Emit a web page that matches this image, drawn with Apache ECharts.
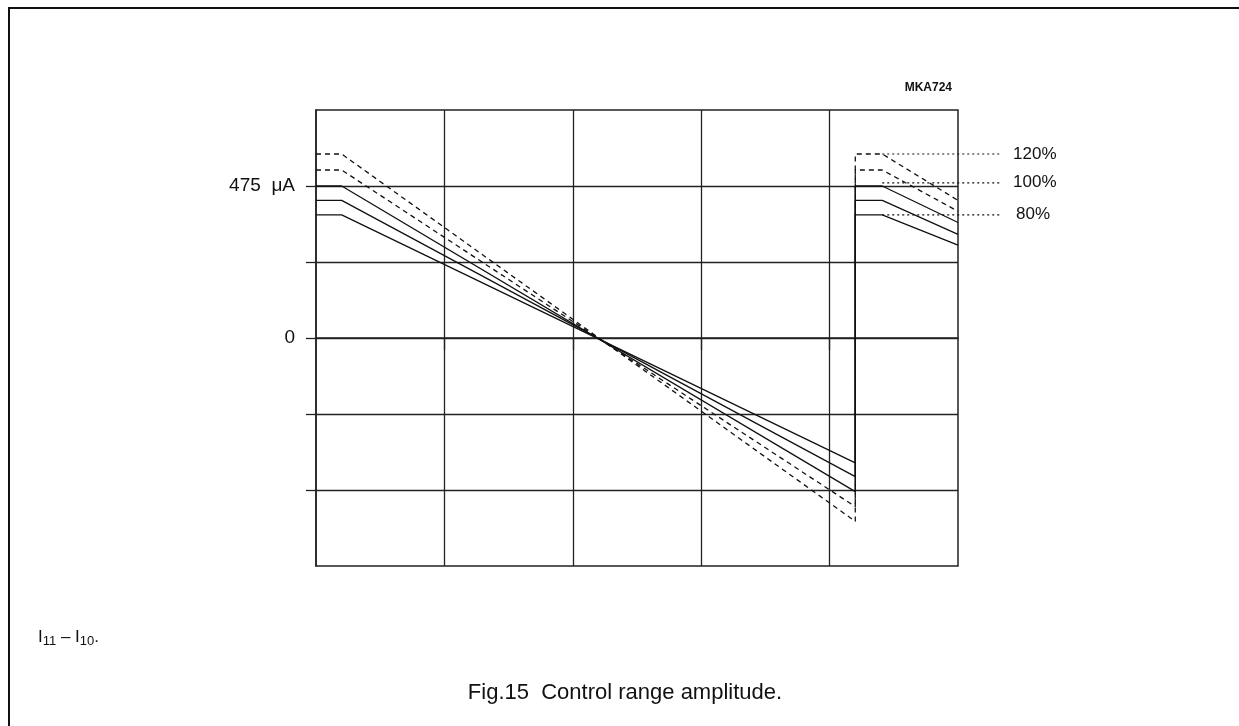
<!DOCTYPE html>
<html>
<head>
<meta charset="utf-8">
<script src="https://cdn.jsdelivr.net/npm/echarts@6/dist/echarts.min.js"></script>
<style>
html,body{margin:0;padding:0;background:#fff;}
#chart{width:1239px;height:726px;}
</style>
</head>
<body>
<div id="chart"></div>
<script>
// x positions (grid units) of the curve knots
const xPos = [0, 0.2, 4.2, 4.2, 4.41, 5.0];
// curve values in µA at each knot
const s120 = [575, 575, -573, 575, 575, 430];
const s110 = [525, 525, -527, 525, 525, 396];
const s100 = [475, 475, -480, 475, 475, 361];
const s90  = [430, 430, -433, 430, 430, 324];
const s80  = [385, 385, -390, 385, 385, 290];
// leader lines to the percentage labels
const leaderX = [4.41, 5.343];
const leaderNames = ['120%', '100%', '80%'];
const leaderY = [575, 485, 385];
// axis tick labels
const yLabelValues = [0, 475];
const yLabelText = {0: '0', 475: '475  μA'};

const lineColor = '#111';
const xMain = 5, xLeader = 5.343;
const gridLeft = 316, gridTop = 110, gridW = 642, gridH = 456;

function curve(name, vals, dashed) {
  return {
    name: name,
    type: 'line',
    xAxisIndex: 0, yAxisIndex: 0,
    data: xPos.map((x, i) => [x, vals[i]]),
    symbol: 'none',
    silent: true,
    lineStyle: {color: lineColor, width: 1.3, type: dashed ? [5, 4] : 'solid'},
    z: 3
  };
}

const series = [
  curve('120%', s120, true),
  curve('110%', s110, true),
  curve('100%', s100, false),
  curve('90%', s90, false),
  curve('80%', s80, false)
];

leaderNames.forEach((nm, k) => {
  series.push({
    name: 'leader ' + nm,
    type: 'line',
    xAxisIndex: 1, yAxisIndex: 1,
    data: leaderX.map(x => [x, leaderY[k]]),
    symbol: 'none',
    silent: true,
    lineStyle: {color: lineColor, width: 1.2, type: [2, 3]},
    endLabel: {
      show: true, distance: k === 2 ? 14 : 11, formatter: nm,
      fontSize: 17, fontFamily: 'Liberation Sans', color: lineColor
    },
    z: 4
  });
});

const yRange = {min: -712.5, max: 712.5};

const chart = echarts.init(document.getElementById('chart'));
chart.setOption({
  animation: false,
  backgroundColor: '#fff',
  grid: [
    {left: gridLeft, top: gridTop, width: gridW, height: gridH,
     show: true, borderColor: '#222', borderWidth: 1.5, backgroundColor: 'transparent'},
    {left: gridLeft, top: gridTop, width: gridW * xLeader / xMain, height: gridH, show: false}
  ],
  xAxis: [{
    gridIndex: 0, type: 'value', min: 0, max: xMain, interval: 1,
    axisLine: {show: true, lineStyle: {color: '#222', width: 1.5}},
    axisTick: {show: true, length: 12, customValues: [1, 2, 3, 4], lineStyle: {color: '#222', width: 1.3}},
    axisLabel: {show: false},
    splitLine: {show: true, lineStyle: {color: '#222', width: 1.3}}
  }, {
    gridIndex: 1, type: 'value', min: 0, max: xLeader, show: false
  }],
  yAxis: [{
    gridIndex: 0, type: 'value', min: yRange.min, max: yRange.max, interval: 237.5,
    axisLine: {show: true, lineStyle: {color: '#222', width: 1.5}},
    axisTick: {show: true, length: 10, customValues: [-475, -237.5, 0, 237.5, 475], lineStyle: {color: '#222', width: 1.3}},
    axisLabel: {
      show: true, margin: 21, customValues: yLabelValues,
      formatter: v => yLabelText[v] !== undefined ? yLabelText[v] : '',
      fontSize: 19, fontFamily: 'Liberation Sans', color: lineColor
    },
    splitLine: {show: true, lineStyle: {color: '#222', width: 1.3}}
  }, {
    gridIndex: 1, type: 'value', min: yRange.min, max: yRange.max, show: false
  }],
  graphic: [
    {type: 'polyline', shape: {points: [[9, 726], [9, 8], [1239, 8]]},
     style: {stroke: '#111', lineWidth: 2, fill: null}, silent: true},
    {type: 'text', x: 952, y: 88,
     style: {text: 'MKA724', fontSize: 12, fontWeight: 'bold', fontFamily: 'Liberation Sans',
             fill: '#111', align: 'right', verticalAlign: 'middle'}},
    {type: 'text', x: 38, y: 637,
     style: {
       text: '{n|I}{s|11}{n| – I}{s|10}{n|.}',
       fontFamily: 'Liberation Sans', fill: '#111', verticalAlign: 'middle',
       rich: {
         n: {fontSize: 17, fontFamily: 'Liberation Sans', fill: '#111', lineHeight: 20},
         s: {fontSize: 13, fontFamily: 'Liberation Sans', fill: '#111', padding: [9, 0, 0, 0], lineHeight: 15}
       }
     }},
    {type: 'text', x: 625, y: 693,
     style: {text: 'Fig.15  Control range amplitude.', fontSize: 22, fontFamily: 'Liberation Sans',
             fill: '#111', align: 'center', verticalAlign: 'middle'}}
  ],
  series: series
});
</script>
</body>
</html>
